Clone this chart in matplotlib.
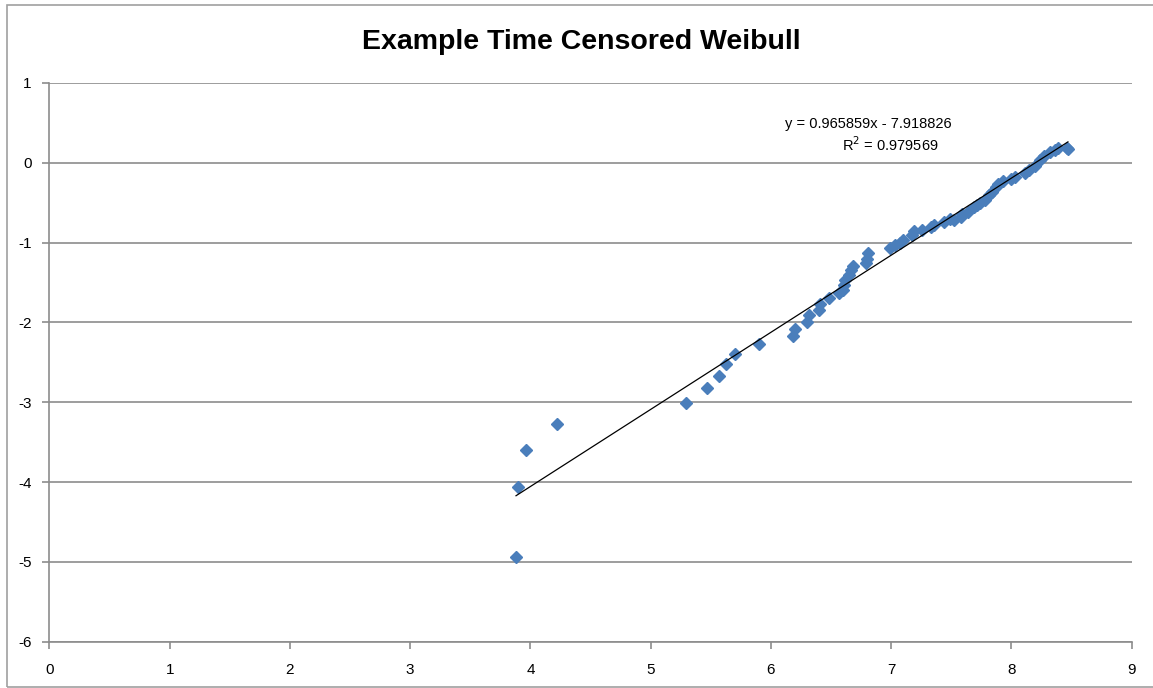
import numpy as np
import matplotlib
matplotlib.use("Agg")
import matplotlib.pyplot as plt
from matplotlib.patches import Rectangle

plt.rcParams['font.family'] = ['Liberation Sans', 'DejaVu Sans']
plt.rcParams['axes.unicode_minus'] = False

# ln(time) vs ln(-ln(1-F))
ln_time = [3.88, 3.90, 3.96, 4.22, 5.29, 5.47, 5.57, 5.63, 5.70, 5.90,
           6.18, 6.20, 6.30, 6.32, 6.40, 6.41, 6.48, 6.57, 6.60, 6.61,
           6.62, 6.65, 6.67, 6.68, 6.79, 6.80, 6.81, 6.99, 7.03, 7.07,
           7.10, 7.17, 7.19, 7.26, 7.33, 7.36, 7.44, 7.49, 7.52, 7.58,
           7.59, 7.64, 7.69, 7.71, 7.74, 7.78, 7.81, 7.84, 7.87, 7.89,
           7.93, 8.00, 8.03, 8.11, 8.15, 8.20, 8.24, 8.27, 8.32, 8.36,
           8.39, 8.46, 8.47]
ln_unrel = [-4.94, -4.06, -3.60, -3.27, -3.01, -2.82, -2.67, -2.52, -2.40, -2.27,
            -2.17, -2.08, -1.99, -1.91, -1.84, -1.77, -1.70, -1.63, -1.59, -1.53,
            -1.47, -1.41, -1.34, -1.29, -1.26, -1.20, -1.13, -1.07, -1.03, -1.01,
            -0.97, -0.91, -0.86, -0.84, -0.80, -0.78, -0.74, -0.71, -0.72, -0.68,
            -0.64, -0.62, -0.55, -0.53, -0.51, -0.47, -0.40, -0.36, -0.30, -0.26,
            -0.23, -0.20, -0.18, -0.13, -0.09, -0.04, 0.03, 0.09, 0.14, 0.16,
            0.18, 0.19, 0.17]

slope = 0.965859
intercept = -7.918826
r_squared = 0.979569

x_ticks = list(range(0, 10))
y_ticks = list(range(-6, 2))

fig = plt.figure(figsize=(11.53, 6.88), dpi=100)
ax = fig.add_axes([0.0429, 0.0673, 0.9386, 0.8121])

# outer chart frame like the spreadsheet chart area
fig.patches.append(Rectangle((7 / 1153, 1 / 688), 1.1, 682 / 688, transform=fig.transFigure,
                             fill=False, edgecolor='#a0a0a0', linewidth=1.2))

ax.set_xlim(0, 9)
ax.set_ylim(-6, 1)
ax.set_xticks(x_ticks)
ax.set_yticks(y_ticks)
ax.yaxis.grid(True, color='#8c8c8c', linewidth=1.2)
ax.set_axisbelow(True)

for side in ['top', 'right']:
    ax.spines[side].set_visible(False)
for side in ['left', 'bottom']:
    ax.spines[side].set_color('#8c8c8c')
    ax.spines[side].set_linewidth(1.2)
ax.tick_params(axis='both', direction='out', length=5, color='#8c8c8c', width=1.2,
               labelsize=11, labelcolor='black')
ax.tick_params(axis='x', pad=10)
ax.tick_params(axis='y', pad=8)

ax.plot(ln_time, ln_unrel, linestyle='none', marker='D', markersize=6,
        color='#4a7ebb', markeredgecolor='#4a7ebb', zorder=3)

# linear trendline across the data range
fit_x = np.array([min(ln_time), max(ln_time)])
ax.plot(fit_x, slope * fit_x + intercept, color='black', linewidth=0.9, zorder=4)

ax.text(6.81, 0.48, f"y = {slope:.6f}x - {abs(intercept):.6f}", ha='center', va='center', fontsize=10.5)
ax.text(6.99, 0.23, f"R$^2$ = {r_squared:.6f}", ha='center', va='center', fontsize=10.5)

fig.text(0.504, 0.939, "Example Time Censored Weibull", ha='center', va='center',
         fontsize=20.5, fontweight='bold')

fig.savefig("out.png", dpi=100)
